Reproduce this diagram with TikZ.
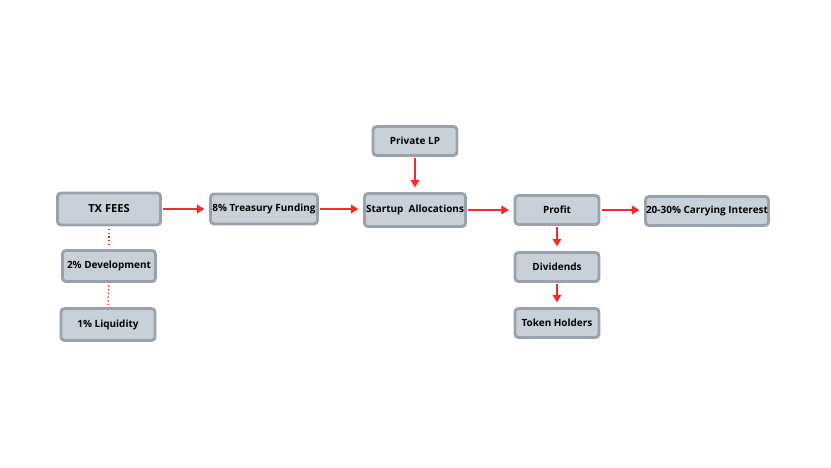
\documentclass[tikz,border=0pt]{standalone}
\usepackage{fontspec}
\setmainfont{Open Sans}
\usetikzlibrary{arrows.meta}
\definecolor{boxfill}{HTML}{C8D0D9}
\definecolor{boxline}{HTML}{98A2AD}
\definecolor{flowred}{HTML}{F52A2A}

\begin{document}
\begin{tikzpicture}[x=0.03cm,y=-0.03cm,
  stage/.style={draw=boxline, fill=boxfill, line width=2.4pt, rounded corners=3pt, inner sep=0pt, font=\bfseries\fontsize{8.5}{10}\selectfont},
  flow/.style={-{Triangle[length=6.5pt,width=7.5pt]}, draw=flowred, line width=1.6pt, shorten >=4pt, shorten <=1pt},
  split/.style={draw=flowred, line width=1.2pt, dotted, shorten >=2pt, shorten <=2pt}]
\useasboundingbox (0,0) rectangle (831,467);

% Fee split on the left
\node[stage, minimum width=3.09cm, minimum height=0.96cm, font=\bfseries\fontsize{9.5}{11}\selectfont] (fees) at (109,209) {TX FEES};
\node[stage, minimum width=2.79cm, minimum height=0.93cm] (dev) at (109,266) {2\% Development};
\node[stage, minimum width=2.82cm, minimum height=0.96cm] (liq) at (108,324.5) {1\% Liquidity};

% Main flow
\node[stage, minimum width=3.21cm, minimum height=0.90cm] (treasury) at (264,209) {8\% Treasury Funding};
\node[stage, minimum width=2.52cm, minimum height=0.87cm] (lp) at (415,141) {Private LP};
\node[stage, minimum width=3.03cm, minimum height=0.99cm] (alloc) at (415,210) {Startup\ \ Allocations};
\node[stage, minimum width=2.52cm, minimum height=0.87cm] (profit) at (557,210) {Profit};
\node[stage, minimum width=3.69cm, minimum height=0.87cm] (carry) at (707,211) {20-30\% Carrying Interest};

% Payout to holders
\node[stage, minimum width=2.52cm, minimum height=0.87cm] (div) at (557,267) {Dividends};
\node[stage, minimum width=2.52cm, minimum height=0.87cm] (holders) at (557,323) {Token Holders};

% Connectors
\draw[split] (fees.south) -- (dev.north);
\draw[split] (dev.south) -- (liq.north);
\draw[flow] (fees.east) -- (fees.east -| treasury.west);
\draw[flow] (treasury.east) -- (treasury.east -| alloc.west);
\draw[flow] (lp.south) -- (alloc.north);
\draw[flow] (alloc.east) -- (profit.west);
\draw[flow] (profit.east) -- (profit.east -| carry.west);
\draw[flow] (profit.south) -- (div.north);
\draw[flow] (div.south) -- (holders.north);

\end{tikzpicture}
\end{document}
